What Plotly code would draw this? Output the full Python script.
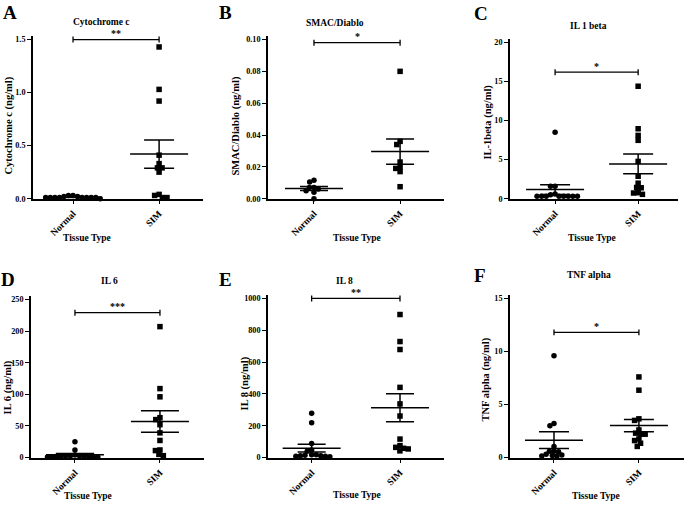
import numpy as np
import plotly.graph_objects as go

W, H = 685, 508

# ---------------- data ----------------
categories = ["Normal", "SIM"]
panel_letters = ["A", "B", "C", "D", "E", "F"]
titles = ["Cytochrome c", "SMAC/Diablo", "IL 1 beta", "IL 6", "IL 8", "TNF alpha"]
y_titles = ["Cytochrome c (ng/ml)", "SMAC/Diablo (ng/ml)", "IL-1beta (ng/ml)",
            "IL 6 (ng/ml)", "IL 8 (ng/ml)", "TNF alpha (ng/ml)"]
x_title = "Tissue Type"
significance = ["**", "*", "*", "***", "**", "*"]
bracket_y = [1.5, 0.098, 16.2, 229, 1000, 11.8]
y_top = [1.5, 0.10, 20, 250, 1000, 15]
y_dtick = [0.5, 0.02, 5, 50, 200, 5]
y_format = [".1f", ".2f", "d", "d", "d", "d"]

cyto_normal = [0.02, 0.01, 0.01, 0.01, 0.01, 0.01, 0.0, 0.01, 0.01, 0.01, 0.02, 0.03, 0.03]
cyto_sim = [1.43, 1.03, 0.92, 0.41, 0.33, 0.29, 0.29, 0.25, 0.03, 0.01, 0.01, 0.04]

smac_normal = [0.0105, 0.0115, 0.007, 0.006, 0.007, 0.005, 0.004, 0.0]
smac_sim = [0.080, 0.036, 0.034, 0.023, 0.019, 0.017, 0.020, 0.0075]

il1b_normal = [8.5, 1.6, 1.6, 0.6, 0.3, 0.3, 0.3, 0.3, 0.3, 0.3, 0.3, 0.3, 0.5]
il1b_sim = [14.4, 8.95, 8.1, 7.47, 4.77, 2.87, 1.98, 1.43, 0.76, 0.55, 0.72, 1.39]

il6_normal = [25, 12, 3, 2, 2, 1, 1, 2, 3, 2, 1, 2, 4, 3]
il6_sim = [207, 109, 96, 63, 60, 52, 39, 27, 11, 3, 5, 12]

il8_normal = [278, 219, 88, 48, 40, 18, 12, 8, 5, 8, 12, 18, 15]
il8_sim = [899, 729, 679, 441, 337, 261, 116, 75, 58, 42, 54, 64]

tnf_normal = [9.6, 3.0, 3.2, 1.05, 0.6, 0.55, 0.6, 0.15, 0.15, 0.2, 0.25, 0.3]
tnf_sim = [7.6, 6.35, 3.65, 3.5, 2.6, 2.2, 2.3, 2.2, 1.6, 1.75, 1.35, 1.05]

groups = [(cyto_normal, cyto_sim), (smac_normal, smac_sim), (il1b_normal, il1b_sim),
          (il6_normal, il6_sim), (il8_normal, il8_sim), (tnf_normal, tnf_sim)]

# ---------------- layout / style ----------------
boxes = [(33, 203, 39, 200), (268, 444, 39, 200), (510, 678, 42, 200),
         (31, 204, 302, 462), (268, 444, 301, 462), (510, 684, 301, 462)]
x_ranges = [(0.535, 2.51), (0.466, 2.51), (0.457, 2.48),
            (0.483, 2.518), (0.506, 2.498), (0.482, 2.531)]
letter_pos = [(10, 12), (225, 12), (481, 13), (8, 282), (226, 282), (480, 278)]
title_pos = [(101, 21), (335, 22), (588, 25), (109, 283), (344, 283), (589, 277)]
ytitle_pos = [(9, 126), (235, 127), (488, 123), (8, 391), (245, 387), (486, 383)]
xtitle_pos = [(87, 240), (357, 240), (592, 240), (88, 501), (357, 500), (596, 501)]
sem_half_px = [15, 14, 15, 19, 14, 15]
mean_half_px = 29
dot_d = 4.6
FONT = "Liberation Serif"


def beeswarm(vals, ppu_y, d):
    vals = np.asarray(vals, dtype=float)
    order = np.argsort(-vals, kind="stable")
    placed = []
    offs = np.zeros(len(vals))
    for i in order:
        y = vals[i] * ppu_y
        intervals = []
        for xo, yo in placed:
            dy = abs(y - yo)
            if dy < d:
                hw = np.sqrt(d * d - dy * dy)
                intervals.append((xo - hw, xo + hw))
        cands = [0.0] + [a for a, b in intervals] + [b for a, b in intervals]
        cands.sort(key=lambda c: (round(abs(c), 6), c))
        for c in cands:
            if all(not (a + 1e-6 < c < b - 1e-6) for a, b in intervals):
                offs[i] = c
                break
        placed.append((offs[i], y))
    return offs


fig = go.Figure()
annotations = []
layout_axes = {}

for i in range(6):
    k = i + 1
    xa = "x" if k == 1 else f"x{k}"
    ya = "y" if k == 1 else f"y{k}"
    x0, x1, y0, y1 = boxes[i]
    xr = x_ranges[i]
    ppu_x = (x1 - x0) / (xr[1] - xr[0])
    ppu_y = (y1 - y0) / y_top[i]

    line_x, line_y = [], []
    for g, (vals, symbol) in enumerate(zip(groups[i], ["circle", "square"])):
        centre = g + 1
        offs = beeswarm(vals, ppu_y, dot_d)
        fig.add_trace(go.Scatter(
            x=centre + offs / ppu_x, y=vals, mode="markers", xaxis=xa, yaxis=ya,
            marker=dict(symbol=symbol, size=5.5, color="black", line=dict(width=0)),
            cliponaxis=False, showlegend=False, hoverinfo="skip"))
        arr = np.asarray(vals, dtype=float)
        m = arr.mean()
        sem = arr.std(ddof=1) / np.sqrt(len(arr))
        mh = mean_half_px / ppu_x
        sh = sem_half_px[i] / ppu_x
        line_x += [centre - mh, centre + mh, None,
                   centre, centre, None,
                   centre - sh, centre + sh, None,
                   centre - sh, centre + sh, None]
        line_y += [m, m, None,
                   m - sem, m + sem, None,
                   m + sem, m + sem, None,
                   m - sem, m - sem, None]
    fig.add_trace(go.Scatter(x=line_x, y=line_y, mode="lines", xaxis=xa, yaxis=ya,
                             line=dict(color="black", width=1.5),
                             showlegend=False, hoverinfo="skip"))
    # significance bracket
    by = bracket_y[i]
    cap = 3.0 / ppu_y
    fig.add_trace(go.Scatter(
        x=[1, 1, None, 1, 2, None, 2, 2],
        y=[by - cap, by + cap, None, by, by, None, by - cap, by + cap],
        mode="lines", xaxis=xa, yaxis=ya, line=dict(color="black", width=1.3),
        showlegend=False, hoverinfo="skip"))
    annotations.append(dict(x=1.5, y=by, xref=xa, yref=ya, text=significance[i],
                            showarrow=False, yanchor="middle", yshift=6,
                            font=dict(family=FONT, size=10, color="black", weight="bold")))

    top_pad = 3.5 / ppu_y
    layout_axes["xaxis" if k == 1 else f"xaxis{k}"] = dict(
        domain=[x0 / W, x1 / W], range=list(xr), anchor=ya,
        tickmode="array", tickvals=[1, 2], ticktext=categories, tickangle=-45,
        showline=True, linecolor="black", linewidth=1.7, ticks="outside",
        ticklen=4, tickwidth=1.4, tickcolor="black", showgrid=False, zeroline=False,
        tickfont=dict(family=FONT, size=9.5, color="black", weight="bold"),
        fixedrange=True)
    layout_axes["yaxis" if k == 1 else f"yaxis{k}"] = dict(
        domain=[1 - y1 / H, 1 - (y0 - 3.5) / H], range=[0, y_top[i] + top_pad], anchor=xa,
        tickmode="linear", tick0=0, dtick=y_dtick[i], tickformat=y_format[i],
        showline=True, linecolor="black", linewidth=1.7, ticks="outside",
        ticklen=4, tickwidth=1.4, tickcolor="black", showgrid=False, zeroline=False,
        tickfont=dict(family=FONT, size=8.2, color="black", weight="bold"),
        fixedrange=True)

    # text
    lx, ly = letter_pos[i]
    annotations.append(dict(x=lx / W, y=1 - ly / H, xref="paper", yref="paper",
                            text=panel_letters[i], showarrow=False,
                            xanchor="center", yanchor="middle",
                            font=dict(family=FONT, size=19, color="black", weight="bold")))
    tx, ty = title_pos[i]
    annotations.append(dict(x=tx / W, y=1 - ty / H, xref="paper", yref="paper",
                            text=titles[i], showarrow=False,
                            xanchor="center", yanchor="middle",
                            font=dict(family=FONT, size=9.5, color="black", weight="bold")))
    yx, yy = ytitle_pos[i]
    annotations.append(dict(x=yx / W, y=1 - yy / H, xref="paper", yref="paper",
                            text=y_titles[i], showarrow=False, textangle=-90,
                            xanchor="center", yanchor="middle",
                            font=dict(family=FONT, size=10.5, color="black", weight="bold")))
    xx, xy = xtitle_pos[i]
    annotations.append(dict(x=xx / W, y=1 - xy / H, xref="paper", yref="paper",
                            text=x_title, showarrow=False,
                            xanchor="center", yanchor="middle",
                            font=dict(family=FONT, size=9.5, color="black", weight="bold")))

fig.update_layout(
    width=W, height=H, margin=dict(l=0, r=0, t=0, b=0),
    paper_bgcolor="white", plot_bgcolor="white",
    showlegend=False, annotations=annotations, **layout_axes)

fig.write_html("out.html", config={"displayModeBar": False},
               post_script="document.body.style.margin='0px';")
